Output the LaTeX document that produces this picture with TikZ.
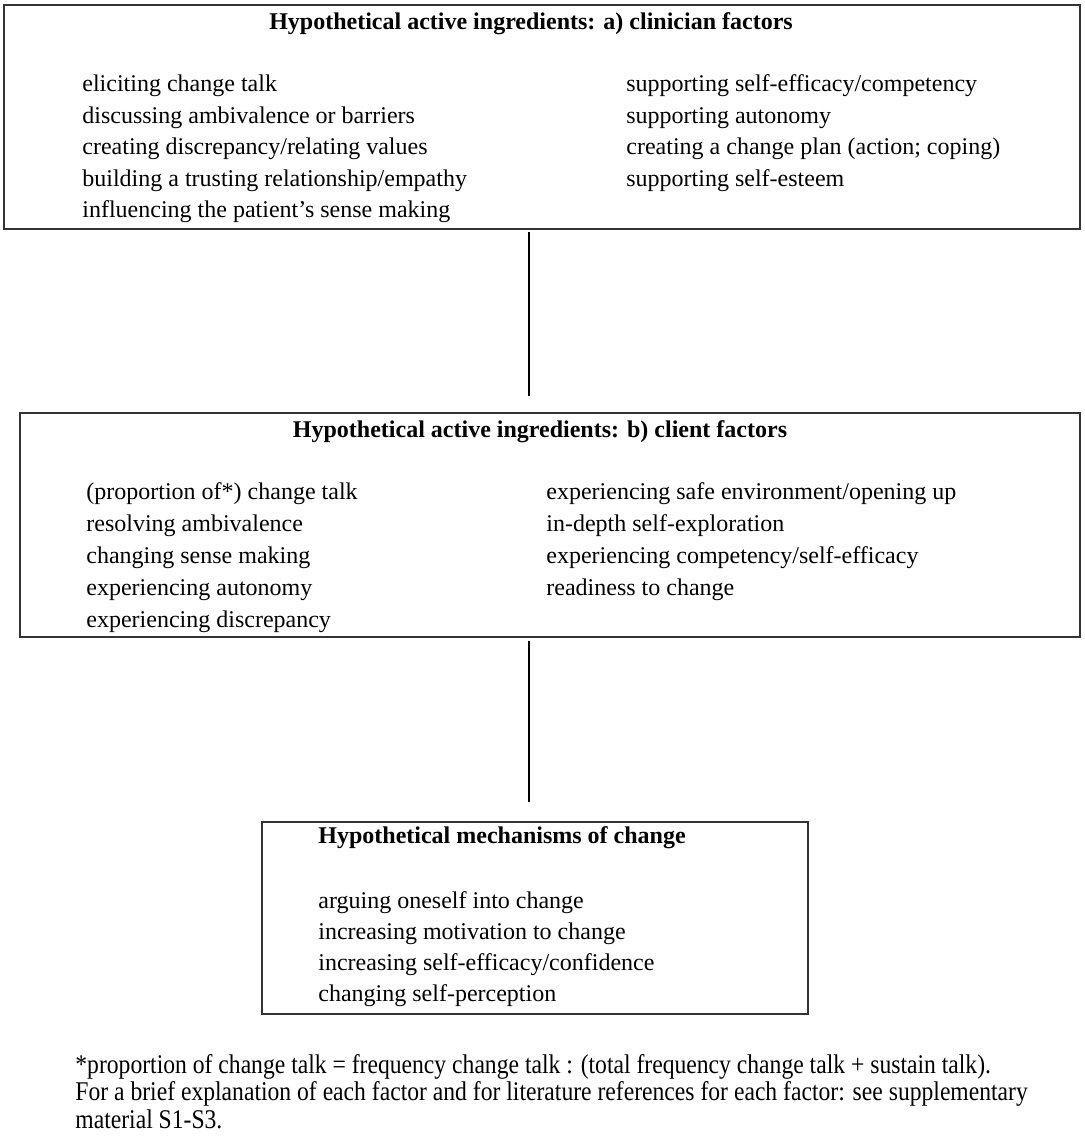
\documentclass[tikz,border=0pt]{standalone}
\usepackage{fontspec}
\setmainfont{Liberation Serif}
\newfontfamily\notefont[FakeStretch=0.875]{Liberation Serif}
\usepackage{tikz}

\begin{document}
\begin{tikzpicture}[x=0.5pt, y=-0.5pt,
    font=\fontsize{12}{14}\selectfont,
    box/.style={draw=black!80, line width=0.9pt},
    head/.style={anchor=base, font=\fontsize{12}{14}\selectfont\bfseries},
    item/.style={anchor=base west, inner sep=0pt},
    link/.style={line width=1pt}]
    \useasboundingbox (0,0) rectangle (1084,1140);
    % the three boxes
    \node[box, minimum width=538pt, minimum height=112pt] (clin) at (542,117) {};
    \node[box, minimum width=530pt, minimum height=112pt] (client) at (550,525) {};
    \node[box, minimum width=273pt, minimum height=96pt] (mech) at (535,918) {};
    % a) clinician factors
    \node[head] (clinhead) at (531,29) {Hypothetical active ingredients: a) clinician factors};
    \foreach \t [count=\i] in {{eliciting change talk},{discussing ambivalence or barriers},
        {creating discrepancy/relating values},{building a trusting relationship/empathy},
        {influencing the patient’s sense making}}
        \node[item] (cl\i) at (82,{91.5+31.5*(\i-1)}) {\t};
    \foreach \t [count=\i] in {{supporting self-efficacy/competency},{supporting autonomy},
        {creating a change plan (action; coping)},{supporting self-esteem}}
        \node[item] (cr\i) at (626,{91.5+31.5*(\i-1)}) {\t};
    % b) client factors
    \node[head] (clienthead) at (540,437) {Hypothetical active ingredients: b) client factors};
    \foreach \t [count=\i] in {{(proportion of*) change talk},{resolving ambivalence},
        {changing sense making},{experiencing autonomy},{experiencing discrepancy}}
        \node[item] (ql\i) at (86,{499+32*(\i-1)}) {\t};
    \foreach \t [count=\i] in {{experiencing safe environment/opening up},{in-depth self-exploration},
        {experiencing competency/self-efficacy},{readiness to change}}
        \node[item] (qr\i) at (546,{499+32*(\i-1)}) {\t};
    % mechanisms
    \node[item, font=\fontsize{12}{14}\selectfont\bfseries] (mechhead) at (318,843) {Hypothetical mechanisms of change};
    \foreach \t [count=\i] in {{arguing oneself into change},{increasing motivation to change},
        {increasing self-efficacy/confidence},{changing self-perception}}
        \node[item] (m\i) at (318,{908+31.3*(\i-1)}) {\t};
    % connectors
    \coordinate (axis) at (529,0);
    \draw[link, shorten <=1pt, shorten >=8pt] (axis |- clin.south) -- (axis |- client.north);
    \draw[link, shorten <=1.5pt, shorten >=9.5pt] (axis |- client.south) -- (axis |- mech.north);
    % footnote
    \foreach \t [count=\i] in {{*proportion of change talk = frequency change talk : (total frequency change talk + sustain talk).},
        {For a brief explanation of each factor and for literature references for each factor: see supplementary},
        {material S1-S3.}}
        \node[item, font=\notefont\fontsize{13.5}{14}\selectfont] (note\i) at (75,{1073+27.5*(\i-1)}) {\t};
\end{tikzpicture}
\end{document}
